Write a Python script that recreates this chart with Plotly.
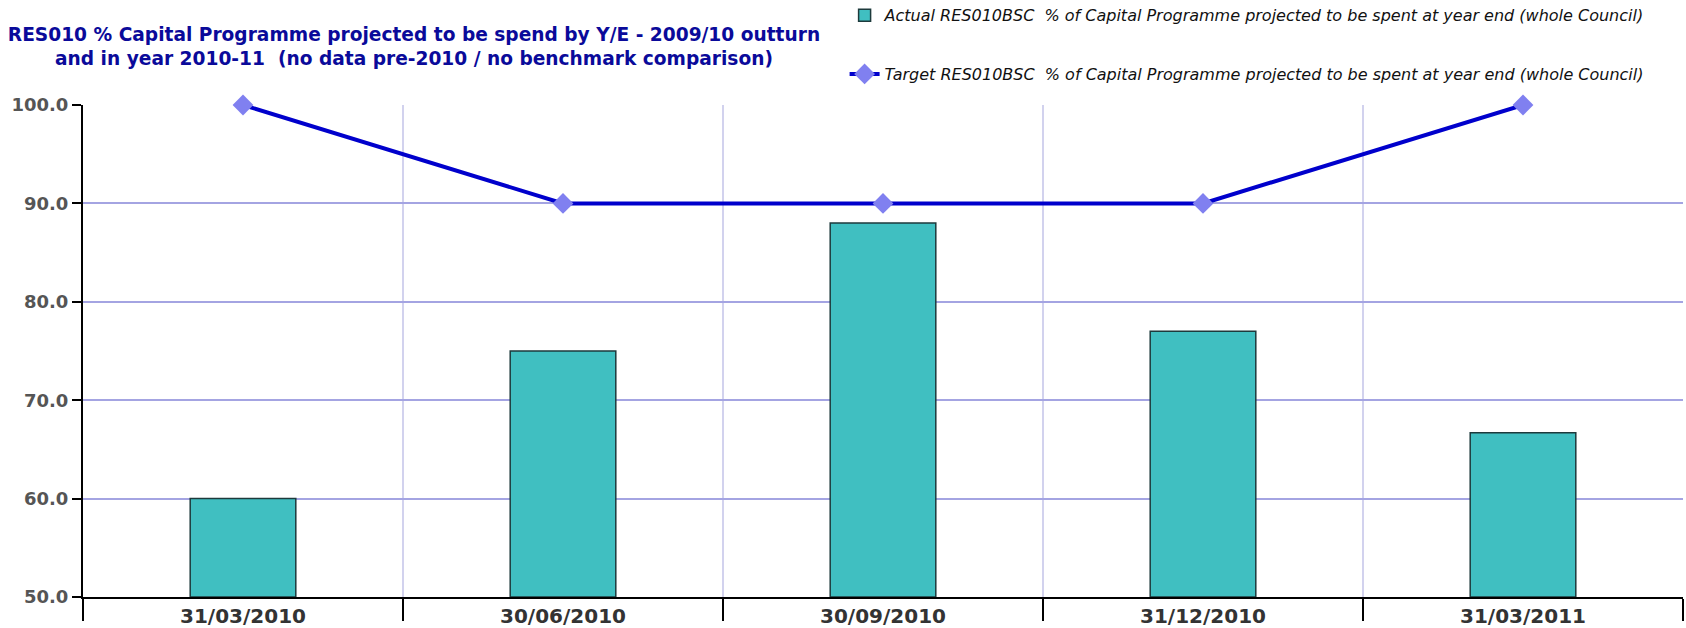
import plotly.graph_objects as go

# Quarter-end reporting dates
dates = ["31/03/2010", "30/06/2010", "30/09/2010", "31/12/2010", "31/03/2011"]
# % of capital programme projected to be spent at year end
actual = [60.0, 75.0, 88.0, 77.0, 66.7]
target = [100.0, 90.0, 90.0, 90.0, 100.0]

title_text = ("RES010 % Capital Programme projected to be spend by Y/E - 2009/10 outturn<br>"
              "and in year 2010-11  (no data pre-2010 / no benchmark comparison)")
actual_name = "Actual RES010BSC  % of Capital Programme projected to be spent at year end (whole Council)"
target_name = "Target RES010BSC  % of Capital Programme projected to be spent at year end (whole Council)"

AXIS_FONT = "DejaVu Sans, Verdana, sans-serif"
Y_MIN, Y_MAX = 50, 100

fig = go.Figure()

fig.add_trace(go.Bar(
    x=dates, y=[v - Y_MIN for v in actual], base=Y_MIN,
    name=actual_name, legendgroup="a",
    width=0.33,
    marker=dict(color="#40BFC1", line=dict(color="#1d3a3c", width=1.5)),
    customdata=actual,
    hovertemplate="%{x}: %{customdata:.1f}<extra></extra>",
))

fig.add_trace(go.Scatter(
    x=dates, y=target, mode="lines+markers",
    name=target_name, legendgroup="t",
    line=dict(color="#0000CC", width=4),
    marker=dict(symbol="diamond", size=16, color="#8080F0", line=dict(width=0)),
    cliponaxis=False,
))

# Overlay axis that carries the date labels, centred under each bar
n = len(dates)
fig.add_trace(go.Scatter(x=[], y=[], xaxis="x2", showlegend=False, hoverinfo="skip"))

fig.update_layout(
    width=1686, height=628,
    margin=dict(l=83, r=3, t=105, b=31, autoexpand=False),
    paper_bgcolor="white", plot_bgcolor="white",
    title=dict(
        text=f"<b>{title_text}</b>",
        x=414 / 1686, xanchor="center",
        y=1 - 41 / 628, yanchor="middle",
        font=dict(family=AXIS_FONT, size=18.6, color="#0A0A9A"),
    ),
    showlegend=True,
    legend=dict(
        x=0.476, xanchor="left", y=1.217, yanchor="top",
        bgcolor="rgba(0,0,0,0)",
        font=dict(family=AXIS_FONT, size=16, color="#111111", style="italic"),
        tracegroupgap=35,
        itemwidth=30,
    ),
    xaxis=dict(
        type="category", range=[-0.5, n - 0.5],
        tickson="boundaries", ticks="outside", ticklen=22, tickwidth=1.5, tickcolor="#000000",
        showticklabels=False,
        showgrid=True, gridcolor="#D2D2EE", gridwidth=1.5,
        showline=True, linecolor="#000000", linewidth=2,
        zeroline=False, fixedrange=True, automargin=False,
    ),
    xaxis2=dict(
        overlaying="x", anchor="y", side="bottom",
        range=[-0.5, n - 0.5],
        tickmode="array", tickvals=list(range(n)), ticktext=dates,
        ticks="outside", ticklen=1, tickcolor="rgba(0,0,0,0)",
        tickfont=dict(family=AXIS_FONT, size=20, color="#333333", weight="bold"),
        showgrid=False, showline=False, zeroline=False, fixedrange=True,
        automargin=False,
    ),
    yaxis=dict(
        range=[Y_MIN, Y_MAX], dtick=10, tick0=Y_MIN, tickformat=".1f",
        ticks="outside", ticklen=9, tickwidth=1.5, tickcolor="#000000",
        tickfont=dict(family=AXIS_FONT, size=18, color="#555555", weight="bold"),
        showgrid=True, gridcolor="#A4A4E2", gridwidth=1.5,
        showline=True, linecolor="#000000", linewidth=2,
        zeroline=False, fixedrange=True, automargin=False,
    ),
)

fig.write_html("out.html")
